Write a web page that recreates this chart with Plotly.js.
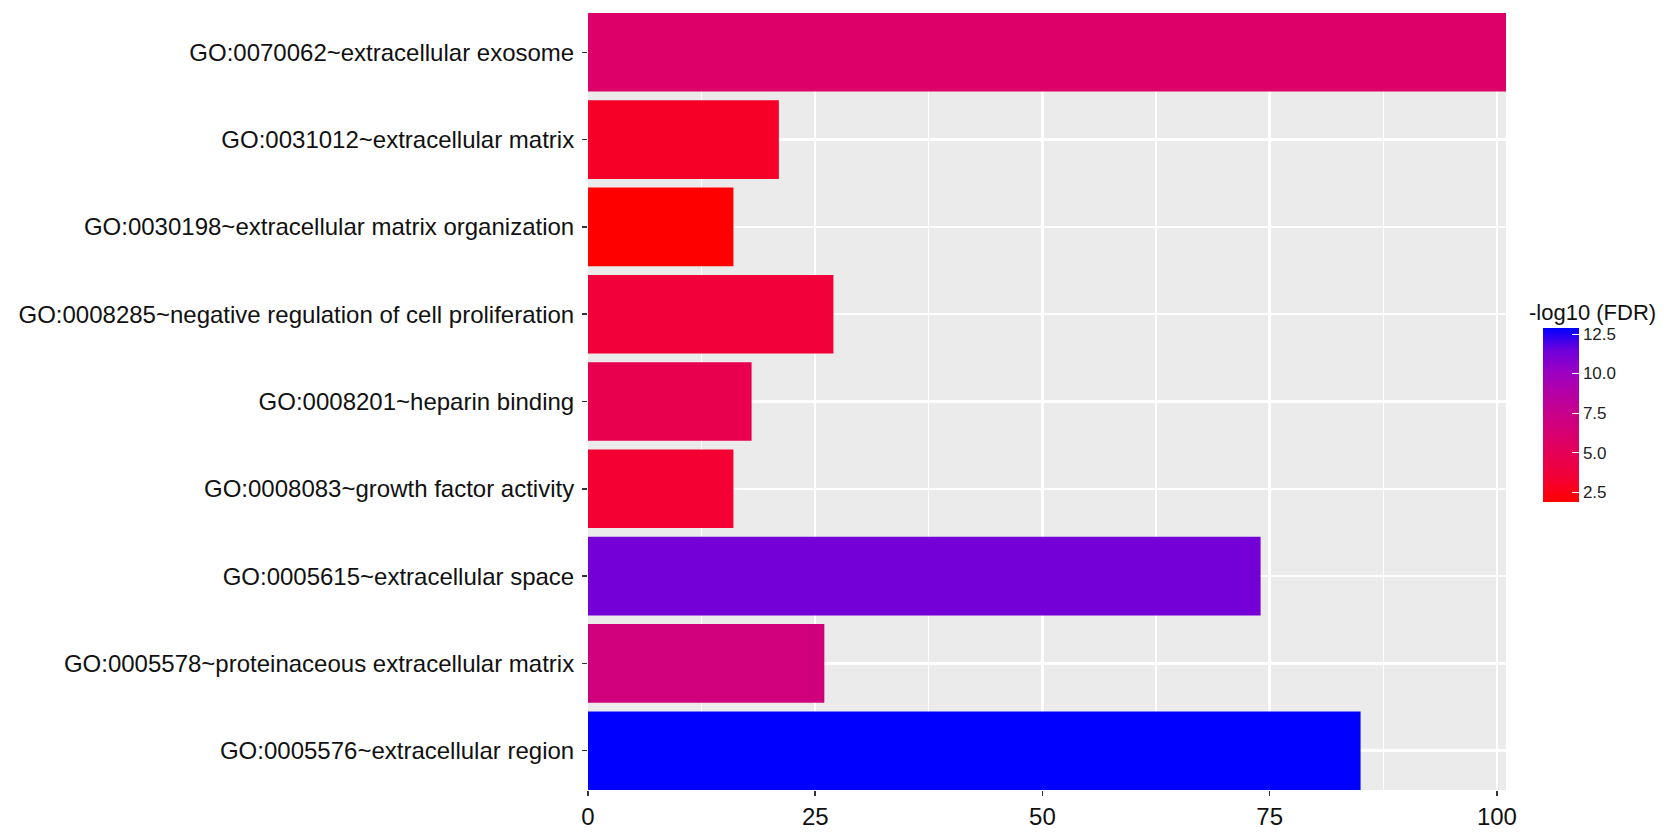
<!DOCTYPE html>
<html>
<head>
<meta charset="utf-8">
<script src="https://cdn.plot.ly/plotly-3.0.1.min.js"></script>
<style>html,body{margin:0;padding:0;background:#fff;}#chart{width:1677px;height:834px;}</style>
</head>
<body>
<div id="chart"></div>
<script>
// GO terms, top to bottom
const terms = [
  "GO:0070062~extracellular exosome",
  "GO:0031012~extracellular matrix",
  "GO:0030198~extracellular matrix organization",
  "GO:0008285~negative regulation of cell proliferation",
  "GO:0008201~heparin binding",
  "GO:0008083~growth factor activity",
  "GO:0005615~extracellular space",
  "GO:0005578~proteinaceous extracellular matrix",
  "GO:0005576~extracellular region"
];
// gene counts
const counts = [101, 21, 16, 27, 18, 16, 74, 26, 85];
// -log10(FDR)
const negLogFdr = [5.8, 3.0, 1.87, 3.6, 4.6, 3.3, 11.3, 6.8, 12.88];
const xTicks = [0, 25, 50, 75, 100];
const cbTicks = [2.5, 5.0, 7.5, 10.0, 12.5];
const cbTickText = ["2.5", "5.0", "7.5", "10.0", "12.5"];
const legendTitle = "-log10 (FDR)";

// red -> blue gradient interpolated in Lab (ggplot style)
const redBlue = [
  [0, "#FF0000"], [0.125, "#F40031"], [0.25, "#E8004F"], [0.375, "#DA006C"],
  [0.5, "#C90089"], [0.625, "#B500A5"], [0.75, "#9A00C3"], [0.875, "#6D00DB"],
  [1, "#0000FF"]
];

const font = "Liberation Sans, Arial, sans-serif";

const trace = {
  type: "bar",
  orientation: "h",
  x: counts,
  y: terms,
  width: 0.9,
  hoverinfo: "x+y",
  marker: {
    color: negLogFdr,
    colorscale: redBlue,
    cmin: 1.87,
    cmax: 12.88,
    line: {width: 0},
    showscale: true,
    colorbar: {
      x: 1.04, xanchor: "left", xpad: 0,
      y: 0.4826, yanchor: "middle", ypad: 0,
      thickness: 36, thicknessmode: "pixels",
      len: 174, lenmode: "pixels",
      outlinewidth: 0,
      tickvals: cbTicks, ticktext: cbTickText,
      ticks: "inside", ticklen: 7, tickcolor: "#ffffff", tickwidth: 1,
      tickfont: {family: font, size: 17, color: "#222"}
    }
  }
};

const layout = {
  width: 1677, height: 834,
  margin: {l: 588, r: 171, t: 13, b: 44, pad: 0},
  paper_bgcolor: "#ffffff",
  plot_bgcolor: "#EBEBEB",
  showlegend: false,
  bargap: 0.1,
  annotations: [{
    text: legendTitle, xref: "paper", yref: "paper",
    x: 1.0229, xanchor: "left", y: 0.6139, yanchor: "middle",
    showarrow: false, font: {family: font, size: 22, color: "#111"}
  }],
  xaxis: {
    range: [0, 101],
    tickvals: xTicks,
    showgrid: true, gridcolor: "#ffffff", gridwidth: 2.5,
    minor: {dtick: 12.5, tick0: 0, showgrid: true, gridcolor: "#ffffff", gridwidth: 1.2, ticks: ""},
    zeroline: false, showline: false,
    ticks: "outside", ticklen: 5, tickwidth: 1.5, tickcolor: "#333",
    tickfont: {family: font, size: 24, color: "#111"},
    fixedrange: true
  },
  yaxis: {
    type: "category",
    categoryorder: "array", categoryarray: terms,
    range: [8.45, -0.45],
    showgrid: true, gridcolor: "#ffffff", gridwidth: 2.5,
    zeroline: false, showline: false,
    ticks: "outside", ticklen: 5, tickwidth: 1.5, tickcolor: "#333",
    ticklabelstandoff: 3,
    tickfont: {family: font, size: 24, color: "#111"},
    fixedrange: true
  }
};

Plotly.newPlot("chart", [trace], layout, {displayModeBar: false, staticPlot: true});
</script>
</body>
</html>
